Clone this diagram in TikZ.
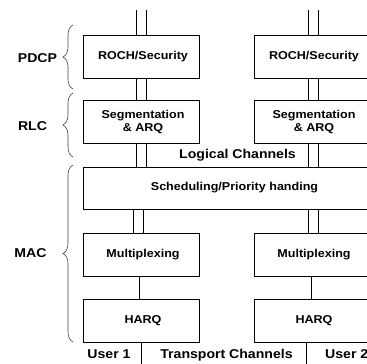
\documentclass[tikz,border=0pt]{standalone}
\usepackage{fontspec}
\setmainfont{Liberation Sans}[FakeStretch=1.1]
\usetikzlibrary{decorations.pathreplacing}
\begin{document}
\begin{tikzpicture}[x=1pt,y=-1pt,
  box/.style={draw, line width=0.7pt, minimum width=116pt, minimum height=43pt, inner sep=0pt,
    font=\fontsize{11.4}{13}\selectfont\bfseries, align=center},
  wide/.style={draw, line width=0.7pt, minimum width=287pt, minimum height=42pt, inner sep=0pt},
  txt/.style={inner sep=0pt, font=\fontsize{11.4}{13}\selectfont\bfseries},
  lbl/.style={inner sep=0pt, font=\fontsize{12.8}{14}\selectfont\bfseries},
  conn/.style={line width=0.7pt},
  brc/.style={decorate, decoration={brace, amplitude=10pt}, line width=0.6pt, black!75}]
\useasboundingbox (0,0) rectangle (367,364);
\clip (0,0) rectangle (367,364);
% boxes
\node[box] (roch1) at (141,56.5) {\hspace*{4pt}ROCH/Security};
\node[box] (roch2) at (312,56.5) {\hspace*{4pt}ROCH/Security};
\node[box] (seg1) at (141,121.5) {\hspace*{4pt}Segmentation\\\hspace*{4pt}\& ARQ};
\node[box] (seg2) at (312,121.5) {\hspace*{4pt}Segmentation\\\hspace*{4pt}\& ARQ};
\node[wide] (sched) at (226.5,188) {};
\node[txt] (schedtxt) at (234.5,188) {Scheduling/Priority handing};
\node[box] (mux1) at (141,255) {\hspace*{4pt}Multiplexing};
\node[box] (mux2) at (312,255) {\hspace*{4pt}Multiplexing};
\node[box] (harq1) at (141,321) {\hspace*{4pt}HARQ};
\node[box] (harq2) at (312,321) {\hspace*{4pt}HARQ};
% free ends
\coordinate (top1) at (141,10);
\coordinate (top2) at (313,10);
\coordinate (bot1) at (141,364);
\coordinate (bot2) at (306,364);
% connectors
\foreach \s in {-5,5} {
  \draw[conn] ([xshift=\s pt]top1) -- ([xshift=\s pt]top1 |- roch1.north);
  \draw[conn] ([xshift=\s pt]top2) -- ([xshift=\s pt]top2 |- roch2.north);
  \draw[conn] ([xshift=\s pt]top1 |- roch1.south) -- ([xshift=\s pt]top1 |- seg1.north);
  \draw[conn] ([xshift=\s pt]top2 |- roch2.south) -- ([xshift=\s pt]top2 |- seg2.north);
  \draw[conn] ([xshift=\s pt]top1 |- seg1.south) -- ([xshift=\s pt]top1 |- sched.north);
  \draw[conn] ([xshift=\s pt]top2 |- seg2.south) -- ([xshift=\s pt]top2 |- sched.north);
  \draw[conn] ([xshift={\s pt-2.5pt}]top1 |- sched.south) -- ([xshift={\s pt-2.5pt}]top1 |- mux1.north);
  \draw[conn] ([xshift=\s pt]top2 |- sched.south) -- ([xshift=\s pt]top2 |- mux2.north);
}
\draw[conn] ([xshift=-2pt]mux1.south) -- ([xshift=-2pt]harq1.north);
\draw[conn] ([xshift=-1pt]mux2.south) -- ([xshift=-1pt]harq2.north);
\draw[conn] (harq1.south -| bot1) -- (bot1);
\draw[conn] (harq2.south -| bot2) -- (bot2);
% channel labels
\node[lbl] (logical) at (237.5,155) {Logical Channels};
\node[lbl] (transport) at (226.5,355) {Transport Channels};
\node[lbl] (user1) at (109,354) {User 1};
\node[lbl, anchor=west] (user2) at (325,354) {User 2};
% layer braces and labels
\coordinate (pb) at (73,89); \coordinate (pt) at (73,25);
\coordinate (rb) at (73,157); \coordinate (rt) at (73,93);
\coordinate (mb) at (73,342); \coordinate (mt) at (73,165);
\draw[brc] (pb) -- (pt);
\draw[brc] (rb) -- (rt);
\draw[brc] (mb) -- (mt);
\node[lbl] (pdcp) at (37.5,58) {PDCP};
\node[lbl] (rlc) at (32.5,126) {RLC};
\node[lbl] (mac) at (30.5,253) {MAC};
\end{tikzpicture}
\end{document}
